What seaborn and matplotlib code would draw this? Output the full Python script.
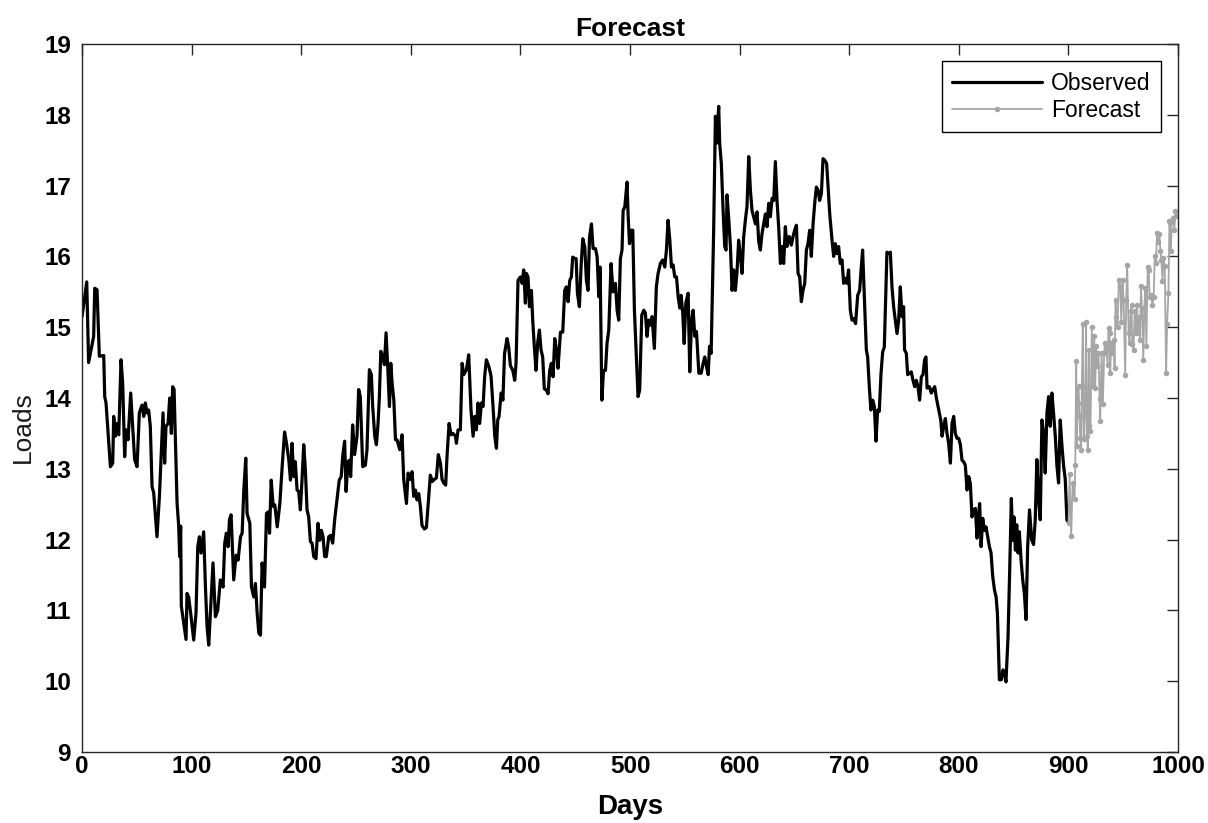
import pandas as pd
import numpy as np
import seaborn as sns
import matplotlib.pyplot as plt

sns.set_style("white")
plt.rcParams['font.family'] = ['Liberation Sans', 'DejaVu Sans']
plt.rcParams['text.color'] = 'black'
plt.rcParams['axes.labelcolor'] = 'black'

# Observed loads (day, value)
obs_days = [
    0, 4.3, 6, 10.6, 11.6, 13.7, 15.8, 19.8, 20.7, 21.9, 25.9, 28, 28.9, 30.4, 31.9, 33.5,
    35.6, 37.1, 38.9, 40.1, 42, 44.4, 46.2, 48, 50.2, 52.3, 54.7, 56.3, 57.8, 59.3, 60.8, 62.3,
    63.9, 65.4, 68.4, 70.6, 72.4, 73.9, 75.4, 76.6, 78.5, 80, 81.5, 82.7, 84, 86.7, 88.2, 89.1,
    90, 90.6, 92.8, 94.9, 95.8, 97.3, 99.5, 101.9, 104, 105.6, 107.1, 108.6, 111, 112.6, 114.1,
    115.6, 117.1, 119.5, 121.7, 123.8, 126.2, 128.7, 130.2, 131.7, 133.3, 134.5, 136, 138.4,
    140.6, 142.4, 144.6, 146.1, 147.6, 149.4, 150.6, 153.1, 154.6, 156.7, 158.2, 159.8, 161.3,
    162.8, 164.3, 166.5, 168.3, 169.8, 171.1, 172.6, 174.4, 175.9, 178.1, 180.5, 182.6, 184.8,
    186.6, 188.7, 190.2, 191.6, 193.1, 194.6, 196.2, 197.7, 199.2, 200.7, 202.3, 203.8, 205.3,
    206.8, 208.4, 209.9, 211.4, 213.5, 215.3, 216.9, 218.4, 219.9, 221.4, 222.9, 225.1, 226.8,
    228.7, 230.5, 232.6, 234.7, 236.5, 237.8, 239.6, 240.9, 242.7, 243.9, 245.1, 246.9, 248.7,
    250.9, 252.4, 253.9, 256.1, 258.5, 260, 262.2, 264, 265.2, 267.1, 268.6, 270.1, 271.3,
    272.6, 274.4, 275.9, 277.4, 278.9, 280.5, 281.7, 282.9, 284.5, 286, 287.4, 289.9, 292,
    293.5, 296, 297.5, 299.6, 301.1, 302.6, 304.2, 305.7, 307.2, 308.7, 310.2, 312.4, 314.2,
    316.1, 317.8, 319.6, 321.4, 323.3, 325.1, 327, 328.5, 330, 331.8, 333, 334.9, 336.7, 338.5,
    340.7, 341.6, 343.1, 345.2, 346.8, 348.3, 350.7, 352.8, 354.9, 356.8, 358.3, 359.8, 361.3,
    362.8, 364.4, 365.9, 367.4, 368.9, 371.1, 373.2, 375, 376.6, 378.1, 379.3, 380.5, 382.4,
    384, 385.5, 387.8, 389.3, 390.8, 393, 394.8, 396, 397.8, 399.9, 401.5, 403, 404.5, 405.4,
    406.9, 408.2, 410, 411.2, 412.7, 414.2, 415.8, 417.3, 418.8, 420.3, 421.8, 423.7, 425.2,
    426.7, 428.2, 429.8, 431.3, 432.8, 434.3, 436.5, 438.6, 440.4, 441.9, 443.5, 445, 446.5,
    447.7, 449.6, 450.8, 452, 453.8, 455.4, 456.9, 458.7, 460.2, 461.7, 463, 464.8, 466.3,
    468.5, 470, 471.5, 472.7, 474.3, 475.8, 477.6, 479, 480.6, 482.7, 484.5, 486.7, 488.2,
    489.7, 491.2, 492.7, 493.7, 495.2, 497.3, 498.2, 499.5, 501, 502.5, 504, 505.5, 507.3,
    508.8, 510.7, 512.5, 514, 515.5, 517, 518.6, 520.1, 522.2, 524, 525.6, 527.7, 529.8, 531.7,
    533.2, 534.7, 536.3, 537.8, 539.3, 540.8, 542.4, 543.9, 545.4, 546.6, 548.1, 549.4, 550.9,
    553, 554.5, 556.1, 557.6, 559.1, 560.6, 562.8, 564.9, 566.7, 568.2, 569.8, 571.3, 572.5,
    574, 576.3, 577.9, 579, 580.9, 581.8, 583.3, 584.9, 586.4, 587.6, 588.5, 590, 591.6, 593.1,
    594.6, 596.1, 597.6, 599.1, 600.7, 602.2, 603.7, 605.2, 606.7, 608.3, 609.8, 611.3, 612.8,
    614.4, 615.9, 617.4, 618.9, 620.4, 622, 623.5, 625, 626.5, 628, 629.6, 631.1, 632.6, 634.1,
    635.6, 637.2, 638.7, 640.2, 641.7, 643.2, 645.3, 647.2, 648.7, 650.2, 651.8, 653.3, 654.8,
    656.3, 657.8, 659.4, 660.9, 662.4, 663.9, 665.4, 667, 668.5, 670, 671.5, 673, 674.6, 676.1,
    677.6, 679.4, 682.2, 684.3, 685.8, 687.3, 688.8, 690.3, 691.8, 693.4, 694.9, 696.4, 697.9,
    699.4, 701, 702.5, 704, 705.8, 707.7, 709.5, 711, 712.2, 713.8, 715.6, 716.8, 718.3, 719.8,
    721.4, 722.9, 724.4, 725.9, 727.4, 729, 730.5, 732, 733.5, 734.4, 736, 737.5, 739, 740.5,
    742, 743.6, 745.1, 746.6, 748.1, 749.6, 750.5, 752.1, 753.3, 755.1, 756.6, 758.2, 759.7,
    761.2, 762.7, 764.2, 765.8, 767.3, 768.8, 770, 771, 773.1, 774.9, 776.4, 778, 779.5, 781,
    782.2, 783.5, 784.7, 786.2, 787.7, 789.2, 790.7, 792.3, 793.8, 795.3, 796.8, 798.3, 799.9,
    801.4, 802.9, 804.4, 805.9, 807.5, 809, 810.5, 812, 813.5, 815.1, 816.6, 818.1, 819, 820.3,
    821.8, 823.3, 824.8, 826.4, 827.9, 829.4, 830.9, 832.5, 834, 835.2, 837, 838.8, 840.3,
    841.8, 843, 844.9, 846.4, 847.9, 849.1, 850.4, 851.6, 852.8, 854, 855.2, 856.8, 858.3,
    859.8, 861.3, 862.8, 864.5, 866.4, 868.2, 869.7, 871.2, 872.7, 874.3, 875.8, 877.3, 878.8,
    880.4, 881.9, 883.4, 884.9, 886.4, 888, 889.5, 891, 892.5, 894.1, 895.6, 897.1, 898.6, 900.1,
]
obs_loads = [
    15.15, 15.64, 14.5, 14.87, 15.55, 15.53, 14.59, 14.6, 14.02, 13.93, 13.03, 13.08, 13.74,
    13.46, 13.64, 13.48, 14.54, 14.21, 13.17, 13.55, 13.41, 14.07, 13.6, 13.13, 13.03, 13.79,
    13.9, 13.74, 13.93, 13.79, 13.83, 13.6, 12.75, 12.66, 12.04, 12.61, 13.27, 13.79, 13.08,
    13.6, 13.64, 14.0, 13.5, 14.16, 14.12, 12.52, 12.19, 11.76, 12.19, 11.06, 10.82, 10.59,
    11.24, 11.19, 10.91, 10.58, 10.96, 11.9, 12.04, 11.81, 12.11, 11.33, 10.77, 10.51, 10.96,
    11.67, 10.91, 11.0, 11.43, 11.33, 11.95, 12.09, 11.9, 12.28, 12.35, 11.43, 11.78, 11.71,
    12.04, 12.09, 12.7, 13.15, 12.37, 12.23, 11.33, 11.19, 11.38, 10.96, 10.68, 10.65, 11.67,
    11.33, 12.37, 12.39, 12.09, 12.84, 12.47, 12.49, 12.18, 12.51, 13.03, 13.52, 13.36, 13.12,
    12.84, 13.36, 12.89, 13.1, 12.7, 12.68, 12.42, 12.84, 13.34, 12.98, 12.42, 12.32, 11.97,
    11.95, 11.76, 11.73, 12.23, 11.99, 12.13, 12.04, 11.76, 11.76, 12.04, 12.06, 11.95, 12.28,
    12.56, 12.84, 12.89, 13.17, 13.39, 12.68, 13.1, 13.12, 12.89, 13.62, 13.2, 13.46, 14.12,
    14.02, 13.03, 13.05, 13.27, 14.4, 14.33, 13.88, 13.46, 13.34, 13.64, 14.02, 14.66, 14.59,
    14.47, 14.92, 14.45, 13.88, 14.49, 14.21, 13.97, 13.41, 13.41, 13.27, 13.48, 12.85, 12.51,
    12.94, 12.85, 12.96, 12.61, 12.7, 12.56, 12.65, 12.47, 12.2, 12.15, 12.17, 12.55, 12.91,
    12.82, 12.85, 12.87, 13.2, 13.08, 12.85, 12.8, 12.77, 13.17, 13.64, 13.48, 13.5, 13.46,
    13.36, 13.55, 13.55, 14.49, 14.33, 14.4, 14.61, 13.83, 13.46, 13.74, 13.55, 13.93, 13.64,
    13.93, 13.88, 14.31, 14.54, 14.45, 14.31, 13.88, 13.46, 13.29, 13.69, 13.74, 14.07, 13.97,
    14.63, 14.84, 14.72, 14.46, 14.39, 14.25, 14.49, 15.66, 15.71, 15.62, 15.81, 15.34, 15.76,
    15.71, 15.29, 15.52, 15.1, 14.72, 14.39, 14.79, 14.96, 14.68, 14.58, 14.13, 14.11, 14.06,
    14.39, 14.49, 14.3, 14.84, 14.68, 14.42, 14.93, 14.93, 15.52, 15.57, 15.36, 15.66, 15.71,
    15.99, 15.97, 15.97, 15.48, 15.29, 15.88, 16.25, 16.13, 15.66, 15.52, 16.27, 16.46, 16.11,
    16.11, 15.99, 15.43, 15.85, 13.97, 14.39, 14.39, 14.77, 14.96, 15.9, 15.5, 15.62, 15.24,
    15.1, 15.97, 16.09, 16.65, 16.7, 17.05, 16.6, 16.18, 16.37, 16.37, 15.24, 14.68, 14.02,
    14.11, 15.17, 15.24, 15.2, 14.87, 15.1, 15.03, 15.15, 14.7, 15.57, 15.76, 15.9, 15.95,
    15.85, 16.09, 16.51, 16.23, 15.85, 15.88, 15.71, 15.71, 15.43, 15.27, 15.45, 15.2, 14.77,
    15.34, 15.48, 14.37, 15.1, 15.24, 14.87, 14.94, 14.35, 14.35, 14.49, 14.58, 14.44, 14.33,
    14.73, 14.63, 16.37, 17.98, 17.6, 18.12, 17.6, 17.31, 16.65, 16.14, 16.09, 16.87, 16.54,
    16.14, 15.52, 15.81, 15.52, 15.78, 16.23, 16.0, 15.76, 16.28, 16.51, 16.7, 17.41, 16.94,
    16.65, 16.56, 16.46, 16.63, 16.21, 16.09, 16.32, 16.46, 16.6, 16.42, 16.75, 16.56, 16.82,
    16.79, 17.34, 16.79, 16.42, 15.9, 16.14, 15.9, 16.42, 16.14, 16.28, 16.16, 16.28, 16.37,
    16.44, 15.76, 15.71, 15.36, 15.52, 15.62, 16.09, 16.18, 16.37, 16.0, 16.46, 16.75, 16.98,
    16.94, 16.79, 16.89, 17.38, 17.36, 17.31, 16.6, 16.23, 16.0, 16.18, 16.04, 16.14, 15.9,
    15.95, 15.62, 15.69, 15.62, 15.81, 15.24, 15.1, 15.12, 15.05, 15.45, 15.52, 15.85, 16.09,
    15.43, 14.68, 14.58, 14.16, 13.83, 13.97, 13.88, 13.39, 13.83, 13.81, 14.35, 14.65, 14.72,
    15.57, 16.06, 16.04, 16.06, 15.57, 15.29, 15.1, 14.91, 15.1, 15.57, 15.15, 15.29, 14.68,
    14.63, 14.33, 14.35, 14.37, 14.25, 14.16, 14.25, 14.16, 13.97, 14.3, 14.33, 14.54, 14.58,
    14.14, 14.16, 14.07, 14.12, 14.16, 14.0, 13.88, 13.79, 13.69, 13.46, 13.6, 13.71, 13.5,
    13.36, 13.08, 13.64, 13.74, 13.5, 13.43, 13.43, 13.34, 13.12, 13.1, 13.05, 12.7, 12.89,
    12.79, 12.32, 12.42, 12.44, 12.02, 12.37, 12.51, 11.9, 12.3, 12.13, 12.18, 12.04, 11.9,
    11.81, 11.48, 11.29, 11.19, 10.96, 10.02, 10.02, 10.16, 10.11, 9.99, 10.63, 11.57, 12.58,
    11.99, 12.32, 11.85, 12.21, 11.81, 12.11, 11.71, 11.43, 11.24, 10.87, 11.9, 12.42, 12.0,
    11.93, 12.28, 13.13, 12.57, 12.28, 13.69, 13.51, 12.94, 13.79, 14.02, 13.6, 14.07, 13.79,
    13.46, 13.04, 12.8, 13.69, 13.32, 13.04, 12.85, 12.28, 12.24,
]

# Forecast loads
fc_days = [
    900.1, 901, 902.5, 903.8, 905.6, 906.2, 907.1, 907.7, 908.3, 909.2, 910.1, 910.7, 911.6,
    912.2, 913.1, 914, 915.2, 916.1, 916.8, 917.7, 918.6, 919.2, 920.1, 921.3, 922.3, 923.5,
    924.4, 925.3, 926.5, 927.4, 928.4, 929, 930.2, 931.4, 932.6, 933.5, 934.4, 935.7, 936.6,
    937.5, 938.1, 939, 940, 941.2, 942.1, 943, 943.6, 944.8, 946, 947.3, 948.2, 949.4, 950.3,
    951.8, 952.7, 953.6, 954.9, 955.8, 956.7, 957.6, 958.2, 959.4, 960.4, 961.6, 962.5, 963.4,
    964.3, 965.3, 966.2, 967.4, 968.3, 969.2, 970.2, 971.1, 972.3, 973.2, 974.1, 975.4, 976.6,
    977.8, 978.7, 979.9, 980.8, 981.7, 983, 983.9, 984.8, 985.8, 986.7, 987.9, 989.1, 990,
    991.2, 992.2, 993.4, 994.3, 995.5, 996.7, 997.6, 998.5,
]
fc_loads = [
    12.24, 12.92, 12.05, 12.8, 12.57, 13.06, 14.52, 13.32, 13.93, 14.17, 13.74, 13.44, 13.27,
    14.17, 15.04, 13.42, 13.79, 15.08, 13.46, 13.27, 14.68, 13.6, 13.53, 15.01, 14.17, 14.87,
    14.14, 14.73, 14.45, 14.64, 13.98, 13.67, 14.64, 13.91, 14.64, 14.78, 14.73, 14.47, 14.99,
    14.92, 14.35, 14.78, 14.64, 14.82, 14.42, 15.39, 15.15, 15.01, 15.67, 15.58, 15.08, 15.67,
    15.39, 14.33, 15.39, 15.88, 14.92, 14.78, 15.23, 15.32, 14.76, 14.68, 15.23, 14.92, 15.32,
    14.92, 15.15, 14.82, 15.58, 15.15, 14.54, 15.27, 15.55, 14.73, 15.85, 15.81, 15.43, 15.46,
    15.32, 15.43, 16.0, 15.91, 16.33, 16.21, 16.31, 16.07, 15.95, 15.65, 15.98, 15.86, 14.35,
    15.04, 15.48, 16.5, 16.07, 16.5, 16.54, 16.38, 16.64, 16.57,
]

obs_df = pd.DataFrame({'Days': obs_days, 'Loads': obs_loads})
fc_df = pd.DataFrame({'Days': fc_days, 'Loads': fc_loads})

fig = plt.figure(figsize=(12.08, 8.23), dpi=100)
ax = fig.add_axes([0.0679, 0.0863, 0.9073, 0.8602])

sns.lineplot(data=obs_df, x='Days', y='Loads', ax=ax, color='black', linewidth=2.3,
             estimator=None, sort=False, label='Observed')
sns.lineplot(data=fc_df, x='Days', y='Loads', ax=ax, color='#a6a6a6', linewidth=1.3,
             marker='o', markersize=4, markeredgewidth=0, estimator=None, sort=False,
             label='Forecast')

ax.set_xlim(0, 1000)
ax.set_ylim(9, 19)
ax.set_xticks(np.arange(0, 1001, 100))
ax.set_yticks(np.arange(9, 20, 1))
ax.tick_params(direction='in', length=8, width=1, top=True, right=True,
               labelsize=17.5, colors='#262626')
ax.tick_params(axis='x', pad=2)
ax.tick_params(axis='y', pad=8)
for lbl in ax.get_xticklabels() + ax.get_yticklabels():
    lbl.set_fontweight('bold')
    lbl.set_color('black')
for sp in ax.spines.values():
    sp.set_color('#262626')
    sp.set_linewidth(1)

ax.set_title('Forecast', fontsize=19, fontweight='bold', pad=6, color='black')
ax.set_xlabel('Days', fontsize=20, fontweight='bold', labelpad=12, color='black')
ax.set_ylabel('Loads', fontsize=19, color='#1a1a1a')
ax.yaxis.set_label_coords(-0.043, 0.459)

leg = ax.legend(loc='upper right', fontsize=16.5, handlelength=3.9, handletextpad=0.4,
                frameon=True, fancybox=False, framealpha=1, edgecolor='black',
                borderaxespad=0.75, borderpad=0.45, labelspacing=0.2)
leg.get_frame().set_linewidth(1)
for t in leg.get_texts():
    t.set_color('black')

fig.savefig('out.png', dpi=100)
